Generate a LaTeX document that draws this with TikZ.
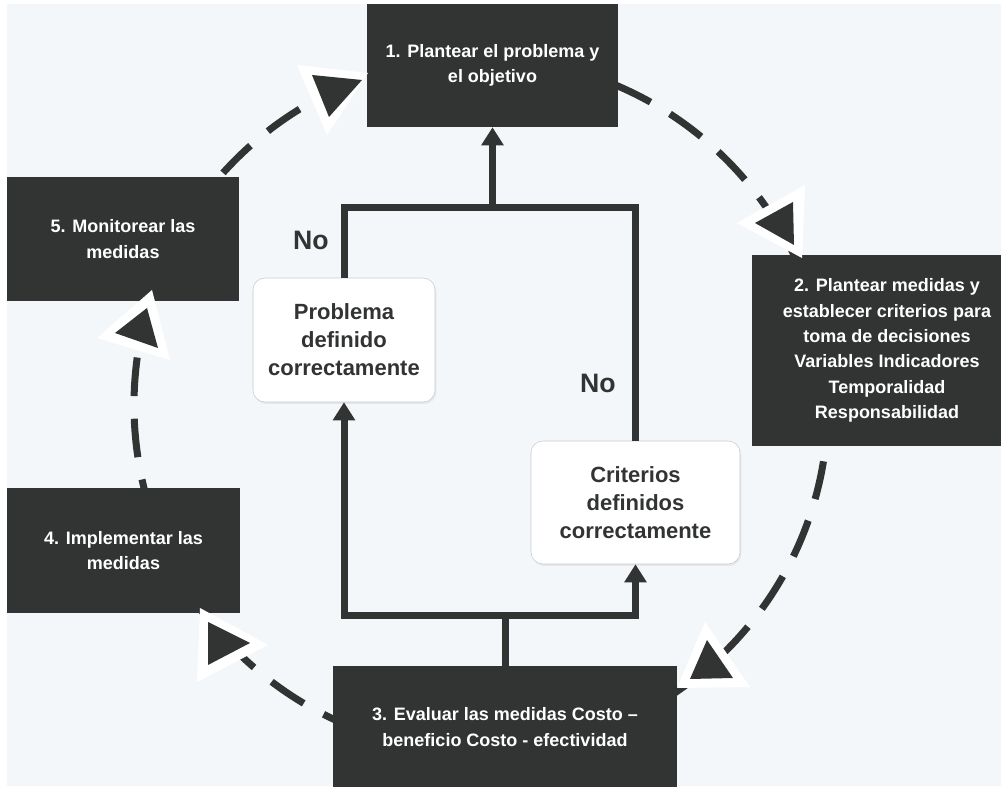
\documentclass[tikz,border=0pt]{standalone}
\usepackage{fontspec}
\setmainfont{Liberation Sans}
\usepackage{tikz}
\usetikzlibrary{arrows.meta,shadows}
\usepackage{xcolor}
\definecolor{stepdark}{HTML}{323333}
\definecolor{paper}{HTML}{F4F7FA}
\definecolor{rim}{HTML}{C9CBCD}

\begin{document}
\begin{tikzpicture}[x=0.75pt,y=-0.75pt,>={Triangle[length=13.5pt,width=16pt]},line cap=butt,
  stage/.style={fill=stepdark,text=white,font=\bfseries\fontsize{13.5}{19}\selectfont,align=center,inner sep=0pt},
  check/.style={fill=white,draw=rim,rounded corners=9pt,text=stepdark,font=\bfseries\fontsize{16.5}{21}\selectfont,align=center,inner sep=0pt,drop shadow={opacity=0.12,shadow xshift=1pt,shadow yshift=-1.5pt}},
  nolabel/.style={text=stepdark,font=\bfseries\fontsize{20}{24}\selectfont,inner sep=0pt},
  flow/.style={draw=stepdark,line width=5.25pt},
  ring/.style={draw=stepdark,line width=5.25pt,dash pattern=on 29pt off 17pt}]
\useasboundingbox (0,0) rectangle (1001,787);
\fill[white] (0,0) rectangle (1001,787);
\fill[paper] (7,4) rectangle (1001,786);
\draw[ring] (481,405) circle[radius=260.25pt];
\node[stage,minimum width=188.25pt,minimum height=92.25pt] (plant) at (492.5,65.5) {1. Plantear el problema y\\el objetivo};
\node[stage,minimum width=202.5pt,minimum height=143.25pt] (measures) at (887,350.5) {2. Plantear medidas y\\establecer criterios para\\toma de decisiones\\Variables Indicadores\\Temporalidad\\Responsabilidad};
\node[stage,minimum width=258pt,minimum height=91.5pt] (eval) at (505,727) {3. Evaluar las medidas Costo --\\beneficio Costo - efectividad};
\node[stage,minimum width=174.75pt,minimum height=93.75pt] (apply) at (123.5,550.5) {4. Implementar las\\medidas};
\node[stage,minimum width=174pt,minimum height=93pt] (watch) at (123,239) {5. Monitorear las\\medidas};
\node[check,minimum width=136.5pt,minimum height=93pt] (probdef) at (344,340) {Problema\\definido\\correctamente};
\node[check,minimum width=156.75pt,minimum height=92.25pt] (critdef) at (635.5,502.5) {Criterios\\definidos\\correctamente};
\node[nolabel] (noprob) at (311,240) {No};
\node[nolabel] (nocrit) at (598,383) {No};
\coordinate (lowbar) at (505,616);
\coordinate (topbar) at (492.5,208);
\draw[flow,->] (eval.north) |- (probdef.south |- lowbar) -- (probdef.south);
\draw[flow,->] (lowbar) -| (critdef.south);
\draw[flow] (probdef.north) |- (critdef.north |- topbar) -- (critdef.north);
\draw[flow,->] (plant.south |- topbar) -- (plant.south);
\fill[white] (297,65) -- (368,73) -- (327,135) -- cycle;
\fill[stepdark] (312,75) -- (362,80) -- (329,117) -- cycle;
\fill[white] (737,223) -- (805,185) -- (802,258) -- cycle;
\fill[stepdark] (755,223) -- (793,202) -- (794,245) -- cycle;
\fill[white] (705,622) -- (750,687) -- (677,688) -- cycle;
\fill[stepdark] (707,640) -- (733,678) -- (690,679) -- cycle;
\fill[white] (200,608) -- (268,645) -- (197,682) -- cycle;
\fill[stepdark] (208,622) -- (250,643) -- (208,665) -- cycle;
\fill[white] (152,290) -- (170,360) -- (97,338) -- cycle;
\fill[stepdark] (147,308) -- (158,348) -- (115,333) -- cycle;
\end{tikzpicture}
\end{document}
